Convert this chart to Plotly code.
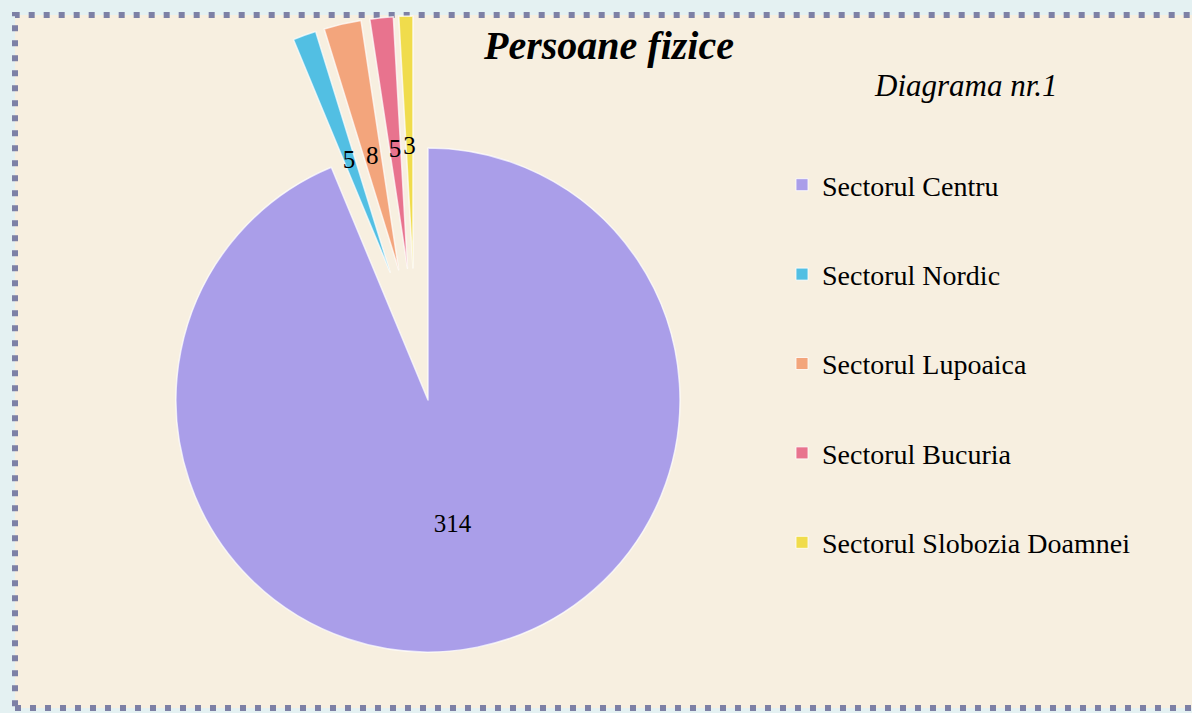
import plotly.graph_objects as go

# ---- data ----
categories = ["Sectorul Centru", "Sectorul Nordic", "Sectorul Lupoaica",
              "Sectorul Bucuria", "Sectorul Slobozia Doamnei"]
values = [314, 5, 8, 5, 3]
colors = ["#aa9ee9", "#52bfe3", "#f3a57c", "#e8738e", "#f0dc4c"]
title_text = "Persoane fizice"
subtitle_text = "Diagrama nr.1"

# ---- layout helpers (pixel geometry) ----
W, H = 1192, 713
FONT = "Liberation Serif"
CLEAR = "rgba(0,0,0,0)"


def domain_for(cx, cy, r, pull):
    half = r * (1 + pull)
    return dict(x=[(cx - half) / W, (cx + half) / W],
                y=[1 - (cy + half) / H, 1 - (cy - half) / H])


R = 252
pull_b = 0.29
rc = 126
pull_c = 74 / rc

is_main = [i == 0 for i in range(len(values))]

fig = go.Figure()

# main (unexploded) slice
fig.add_trace(go.Pie(
    labels=categories, values=values, sort=False, direction="clockwise", rotation=0,
    marker=dict(colors=[c if m else CLEAR for c, m in zip(colors, is_main)],
                line=dict(color=["rgba(255,255,255,0.7)" if m else CLEAR for m in is_main],
                          width=1.5)),
    textinfo="value", textposition=["inside" if m else "none" for m in is_main],
    insidetextorientation="horizontal",
    textfont=dict(family=FONT, size=25, color="black"),
    domain=domain_for(428, 400, R, 0), showlegend=False, hoverinfo="label+value",
))

# exploded small slices
fig.add_trace(go.Pie(
    labels=categories, values=values, sort=False, direction="clockwise", rotation=0,
    pull=[0 if m else pull_b for m in is_main],
    marker=dict(colors=[CLEAR if m else c for c, m in zip(colors, is_main)],
                line=dict(color=[CLEAR if m else "rgba(255,255,255,0.7)" for m in is_main],
                          width=1.5)),
    textinfo="none",
    domain=domain_for(415, 341, R, pull_b), showlegend=False, hoverinfo="label+value",
))

# labels of small slices
fig.add_trace(go.Pie(
    labels=categories, values=values, sort=False, direction="clockwise", rotation=0,
    pull=[0 if m else pull_c for m in is_main],
    marker=dict(colors=[CLEAR] * len(values), line=dict(width=0)),
    textinfo="value", textposition=["none" if m else "inside" for m in is_main],
    insidetextorientation="horizontal",
    textfont=dict(family=FONT, size=25, color="black"),
    domain=domain_for(415, 342, rc, pull_c), showlegend=False, hoverinfo="skip",
))

# legend entries
for i, (name, col) in enumerate(zip(categories, colors)):
    fig.add_trace(go.Scatter(
        x=[None], y=[None], mode="markers", name=name, legendgroup=f"g{i}",
        marker=dict(symbol="square", size=12, color=col,
                    line=dict(color="rgba(255,255,255,0.8)", width=1)),
    ))

fig.update_layout(
    width=W, height=H,
    margin=dict(l=0, r=0, t=0, b=0),
    paper_bgcolor="#e4f1f2",
    plot_bgcolor=CLEAR,
    xaxis=dict(visible=False), yaxis=dict(visible=False),
    title=dict(text=f"<b><i>{title_text}</i></b>", x=609 / W, xanchor="center",
               y=1 - 45 / H, yanchor="middle",
               font=dict(family=FONT, size=40, color="black")),
    uniformtext=dict(minsize=25, mode="show"),
    legend=dict(x=782 / W, xanchor="left", y=1 - 160 / H, yanchor="top",
                traceorder="grouped", tracegroupgap=50,
                font=dict(family=FONT, size=28, color="black"),
                bgcolor=CLEAR),
    shapes=[dict(type="rect", xref="paper", yref="paper",
                 x0=15 / W, x1=1.02, y0=1 - 708 / H, y1=1 - 15 / H,
                 fillcolor="#f7efe0", layer="below",
                 line=dict(color="#7d80a5", width=6, dash="6px,9px"))],
    annotations=[dict(text=f"<i>{subtitle_text}</i>", x=966 / W, y=1 - 86 / H,
                      xref="paper", yref="paper", xanchor="center", yanchor="middle",
                      showarrow=False, font=dict(family=FONT, size=31, color="black"))],
)

fig.write_html("out.html", config={"displayModeBar": False},
               post_script="document.body.style.margin='0';")
